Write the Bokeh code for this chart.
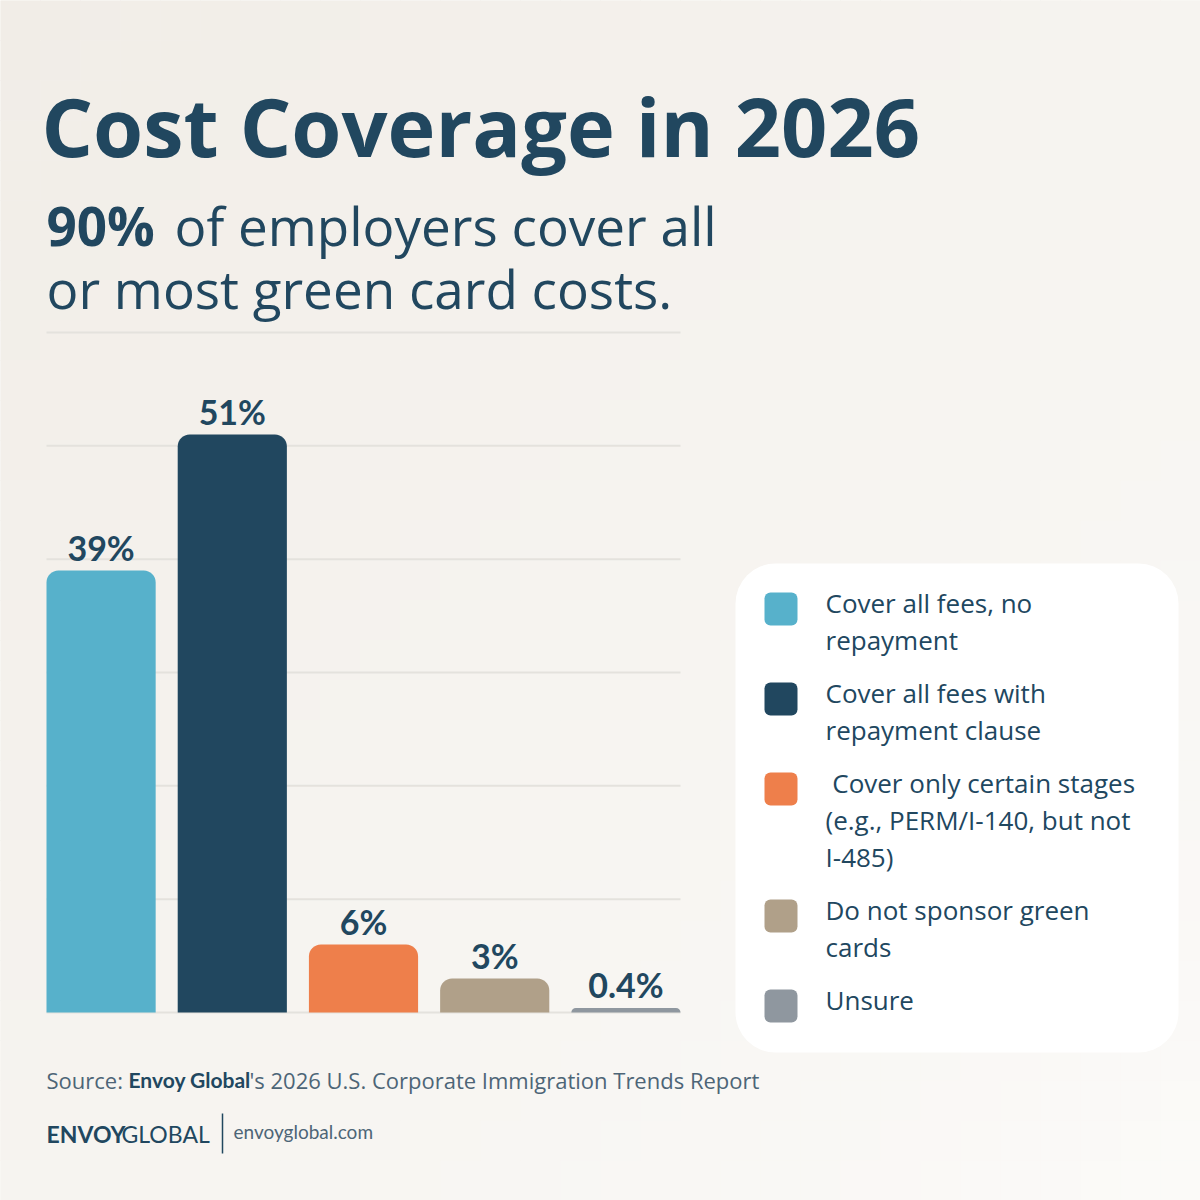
from bokeh.plotting import figure
from bokeh.models import Range1d
from bokeh.embed import file_html
from bokeh.resources import INLINE
from bokeh.core.properties import value

# ---- data -------------------------------------------------------------
categories = [
    "Cover all fees, no\nrepayment",
    "Cover all fees with\nrepayment clause",
    " Cover only certain stages\n(e.g., PERM/I-140, but not\nI-485)",
    "Do not sponsor green\ncards",
    "Unsure",
]
shares = [39, 51, 6, 3, 0.4]
bar_colors = ["#57b1cb", "#21475f", "#ee7f4b", "#b0a089", "#8f979f"]
grid_values = [0, 10, 20, 30, 40, 50, 60]

title = "Cost Coverage in 2026"
headline_bold = "90%"
headline_rest = "of employers cover all"
headline_line2 = "or most green card costs."
source_prefix = "Source:"
source_name = "Envoy Global"
source_rest = "'s 2026 U.S. Corporate Immigration Trends Report"
brand_bold, brand_light, brand_url = "ENVOY", "GLOBAL", "envoyglobal.com"

# ---- styling ------------------------------------------------------------
NAVY = "#21475f"
MUTED = "#4d6577"
BG = "#f5f3ee"
BG_FROM = (241, 237, 231)   # warm top-left corner
BG_TO = (251, 250, 248)     # pale bottom-right corner
GRID = "#e4e2dd"
SANS = "Open Sans"
LATO = "Lato"
LIFT = 0.41  # baseline correction, as a fraction of the font size

W = H = 1200
# bar chart area in canvas pixels
AREA_L, AREA_R, AREA_T, AREA_B = 46, 680, 332, 1012
Y_MAX = 60
BAR_FRAC = 0.832

n = len(shares)
step = (AREA_R - AREA_L) / (n - 1 + BAR_FRAC)
first_center = AREA_L + step * BAR_FRAC / 2
ppu = (AREA_B - AREA_T) / Y_MAX

p = figure(
    width=W, height=H,
    x_range=Range1d(0, W), y_range=Range1d(H, 0),
    x_axis_type=None, y_axis_type=None,
    output_backend="svg", toolbar_location=None,
    min_border=0, outline_line_color=None,
    background_fill_color=BG, border_fill_color=BG,
)
p.extra_x_ranges = {"cat": Range1d(-first_center / step, (W - first_center) / step)}
p.extra_y_ranges = {"pct": Range1d(-(H - AREA_B) / ppu, AREA_B / ppu)}

# soft diagonal background wash, drawn as a grid of tiles (canvas pixels)
CELL = 40
cells = W // CELL
tl, tr, tt, tb, tc = [], [], [], [], []
for i in range(cells):
    for j in range(cells):
        f = (i + j) / (2 * (cells - 1))
        rgb = [round(a + (b - a) * f) for a, b in zip(BG_FROM, BG_TO)]
        tl.append(i * CELL)
        tr.append((i + 1) * CELL)
        tt.append(j * CELL)
        tb.append((j + 1) * CELL)
        tc.append("#%02x%02x%02x" % tuple(rgb))
p.quad(left=tl, right=tr, top=tt, bottom=tb, fill_color=tc, line_color=tc, line_width=0.5)


def words(xs, ys, texts, size, color=NAVY, bold=False, font=SANS, **kw):
    """Left-aligned text placed by its baseline, in canvas pixels."""
    return p.text(x=xs, y=ys, text=texts, text_font=value(font),
                  text_font_style="bold" if bold else "normal",
                  text_font_size=f"{size}px", text_color=color,
                  text_baseline="alphabetic", y_offset=-round(LIFT * size), **kw)


idx = list(range(n))

# gridlines
p.segment(x0=-BAR_FRAC / 2, x1=n - 1 + BAR_FRAC / 2, y0=grid_values, y1=grid_values,
          line_color=GRID, line_width=2, x_range_name="cat", y_range_name="pct")

# bars
p.vbar(x=idx, top=shares, bottom=0, width=BAR_FRAC, fill_color=bar_colors,
       line_color=None, border_radius=(12, 12, 0, 0),
       x_range_name="cat", y_range_name="pct")

# value labels
LBL = 34
p.text(x=idx, y=shares, text=[f"{v:g}%" for v in shares],
       text_align="center", text_baseline="alphabetic",
       y_offset=-9 - round(LIFT * LBL),
       text_font=value(LATO), text_font_style="bold", text_font_size=f"{LBL}px",
       text_color=NAVY, x_range_name="cat", y_range_name="pct")

# title and headline
words([41], [158], [title], 81, bold=True)
words([46], [247], [headline_bold], 53, bold=True)
words([174, 46], [247, 310], [headline_rest, headline_line2], 53)

# legend panel
p.quad(left=735, right=1178, top=563, bottom=1052, fill_color="white",
       line_color=None, border_radius=40)

LINE_H, ITEM_GAP, SW = 37, 16, 33
baseline = 613
sw_top, lx, ly, lt = [], [], [], []
for cat in categories:
    lines = cat.split("\n")
    sw_top.append(baseline - 21)
    for k, line in enumerate(lines):
        lx.append(825)
        ly.append(baseline + k * LINE_H)
        # keep a leading space visible in SVG text
        lt.append("\u00a0" + line[1:] if line.startswith(" ") else line)
    baseline += len(lines) * LINE_H + ITEM_GAP

p.quad(left=764, right=764 + SW, top=sw_top, bottom=[t + SW for t in sw_top],
       fill_color=bar_colors, line_color=None, border_radius=6)
words(lx, ly, lt, 26)

# source line
words([46, 249], [1088, 1088], [source_prefix, source_rest], 22, color=MUTED)
words([128], [1088], [source_name], 21, bold=True, font=LATO)

# brand footer
words([46], [1142], [brand_bold], 23, bold=True, font=LATO)
words([121], [1142], [brand_light], 23, font=LATO)
p.segment(x0=[222], x1=[222], y0=[1113], y1=[1153], line_color=NAVY, line_width=1.5)
words([233], [1139], [brand_url], 19, color=MUTED, font=LATO)

open("out.html", "w").write(file_html(p, INLINE))
